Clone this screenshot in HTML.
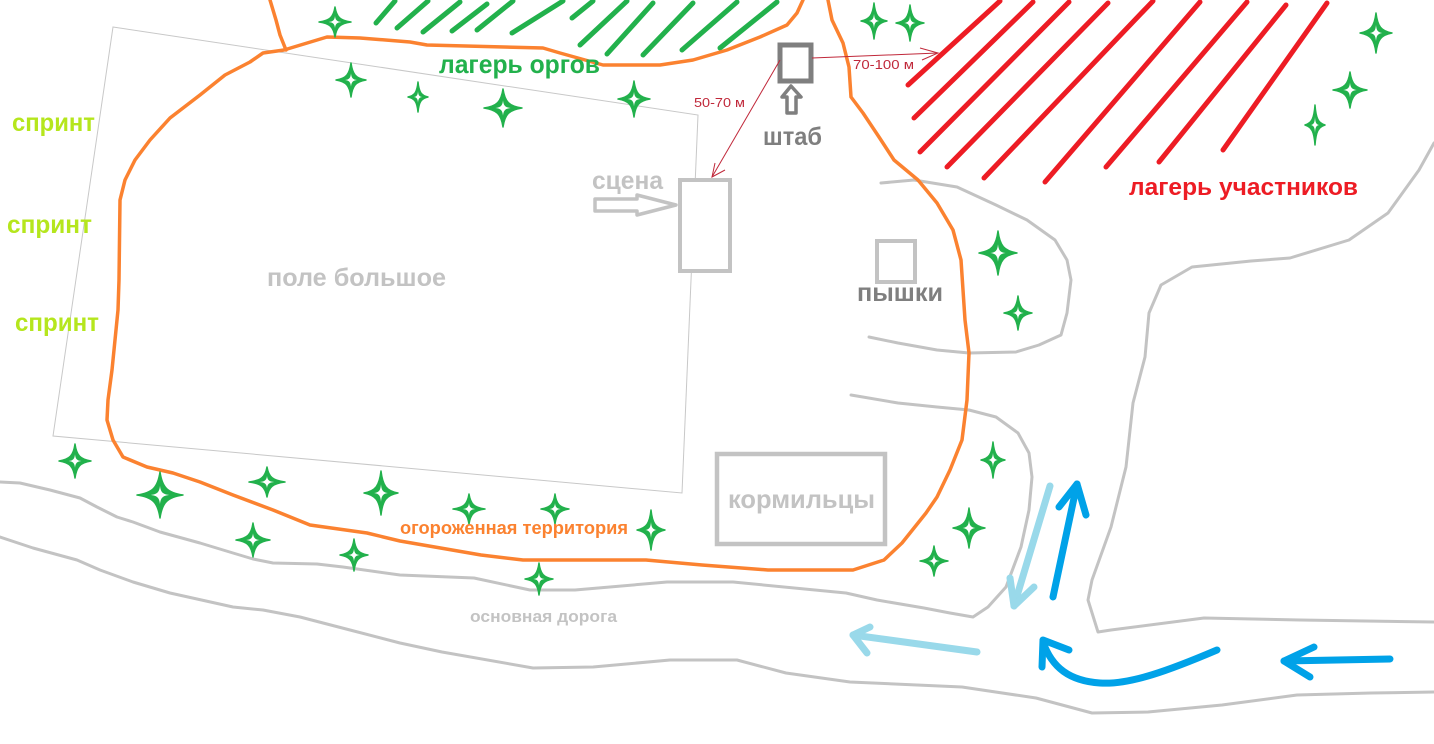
<!DOCTYPE html>
<html><head><meta charset="utf-8"><style>
html,body{margin:0;padding:0;background:#fff;}
svg{display:block;}
text{font-family:"Liberation Sans","DejaVu Sans",sans-serif;font-weight:bold;}
</style></head><body>
<svg width="1434" height="744" viewBox="0 0 1434 744" xmlns="http://www.w3.org/2000/svg">
<defs>
<path id="st" d="M0,-1 C0.1,-0.32 0.32,-0.1 1,0 C0.32,0.1 0.1,0.32 0,1 C-0.1,0.32 -0.32,0.1 -1,0 C-0.32,-0.1 -0.1,-0.32 0,-1Z" fill="#22b14c" stroke="#22b14c" stroke-width="1.5" stroke-linejoin="round" vector-effect="non-scaling-stroke"/>
<path id="sw" d="M0,-0.4 C0.03,-0.12 0.12,-0.03 0.4,0 C0.12,0.03 0.03,0.12 0,0.4 C-0.03,0.12 -0.12,0.03 -0.4,0 C-0.12,-0.03 -0.03,-0.12 0,-0.4Z" fill="#fff"/>
</defs>
<rect width="1434" height="744" fill="#fff"/>

<!-- field outline -->
<polygon points="113,27 698,115 682,493 53,436" fill="none" stroke="#c8c8c8" stroke-width="1"/>

<!-- roads -->
<g fill="none" stroke="#c3c3c3" stroke-width="3" stroke-linejoin="round" stroke-linecap="round">
<polyline points="0,482 20,483 50,490 80,498 97,507 117,517 133,522 160,532 200,543 233,553 253,559 273,563 317,564 343,567 400,575 474,578 530,590 575,590 667,582 733,582 846,593 877,600 924,608 950,613 973,617 988,607 1006,587 1021,547 1029,510 1032,477 1029,453 1018,433 996,417 969,410 937,407 898,403 851,395"/>
<polyline points="0,537 33,548 77,560 100,570 133,582 170,593 233,607 263,610 300,617 350,630 400,643 442,652 533,668 593,667 670,660 737,660 786,673 850,682 962,687 1036,698 1092,713 1148,712 1222,705 1297,695 1371,693 1434,692"/>
<polyline points="1434,622 1300,620 1204,618 1111,630 1098,632 1088,600 1092,580 1111,527 1126,467 1133,403 1145,357 1149,313 1161,285 1192,267 1251,261 1290,258 1349,240 1388,213 1419,170 1434,143"/>
<polyline points="881,183 914,180 957,187 996,205 1027,220 1055,240 1067,260 1071,280 1067,313 1061,335 1039,345 1016,352 969,353 937,350 898,343 869,337"/>
</g>

<!-- green hatches -->
<g stroke="#22b14c" stroke-width="5" stroke-linecap="round">
<line x1="376" y1="23" x2="395" y2="1"/>
<line x1="397" y1="28" x2="428" y2="1"/>
<line x1="423" y1="32" x2="460" y2="2"/>
<line x1="452" y1="31" x2="487" y2="4"/>
<line x1="477" y1="30" x2="513" y2="1"/>
<line x1="512" y1="33" x2="563" y2="1"/>
<line x1="572" y1="18" x2="593" y2="1"/>
<line x1="580" y1="45" x2="627" y2="1"/>
<line x1="607" y1="54" x2="653" y2="3"/>
<line x1="643" y1="55" x2="693" y2="3"/>
<line x1="682" y1="50" x2="737" y2="2"/>
<line x1="720" y1="48" x2="777" y2="2"/>
</g>

<!-- red hatches -->
<g stroke="#ed1c24" stroke-width="5" stroke-linecap="round">
<line x1="908" y1="85" x2="1000" y2="1"/>
<line x1="914" y1="118" x2="1033" y2="2"/>
<line x1="920" y1="152" x2="1069" y2="2"/>
<line x1="947" y1="167" x2="1108" y2="3"/>
<line x1="984" y1="178" x2="1153" y2="1"/>
<line x1="1045" y1="182" x2="1200" y2="2"/>
<line x1="1106" y1="167" x2="1247" y2="2"/>
<line x1="1159" y1="162" x2="1286" y2="5"/>
<line x1="1223" y1="150" x2="1327" y2="3"/>
</g>

<!-- orange fence -->
<g fill="none" stroke="#fb8230" stroke-width="3.5" stroke-linejoin="round" stroke-linecap="round">
<polyline points="270,0 276,20 280,35 286,50"/>
<polyline points="803,0 797,13 787,25 760,37 727,50 693,60 660,65 603,65 560,53 543,48 427,45 410,42 360,38 327,37 284,50 263,53 250,62 225,75 200,95 170,118 150,140 135,160 125,180 120,200 119,280 118,310 112,370 108,400 107,420 113,440 123,457 147,467 173,473 200,482 233,495 273,510 310,525 367,533 400,541 481,555 523,560 646,560 702,565 768,570 853,570 884,560 902,543 926,513 937,497 950,470 962,440 967,400 969,353 965,320 961,260 953,230 937,203 918,180 894,160 879,137 863,113 851,97 849,67 843,43 832,20 828,0"/>
</g>

<!-- stars -->
<g>
<use href="#st" transform="translate(335,22) scale(16,15)"/><use href="#sw" transform="translate(335,22) scale(16,15)"/>
<use href="#st" transform="translate(351,80) scale(15,17)"/><use href="#sw" transform="translate(351,80) scale(15,17)"/>
<use href="#st" transform="translate(418,97) scale(10,15)"/><use href="#sw" transform="translate(418,97) scale(10,15)"/>
<use href="#st" transform="translate(503,108) scale(19,19)"/><use href="#sw" transform="translate(503,108) scale(19,19)"/>
<use href="#st" transform="translate(634,99) scale(16,18)"/><use href="#sw" transform="translate(634,99) scale(16,18)"/>
<use href="#st" transform="translate(874,21) scale(13,18)"/><use href="#sw" transform="translate(874,21) scale(13,18)"/>
<use href="#st" transform="translate(910,23) scale(14,18)"/><use href="#sw" transform="translate(910,23) scale(14,18)"/>
<use href="#st" transform="translate(1376,33) scale(16,20)"/><use href="#sw" transform="translate(1376,33) scale(16,20)"/>
<use href="#st" transform="translate(1350,90) scale(17,18)"/><use href="#sw" transform="translate(1350,90) scale(17,18)"/>
<use href="#st" transform="translate(1315,125) scale(10,20)"/><use href="#sw" transform="translate(1315,125) scale(10,20)"/>
<use href="#st" transform="translate(998,253) scale(19,22)"/><use href="#sw" transform="translate(998,253) scale(19,22)"/>
<use href="#st" transform="translate(1018,313) scale(14,17)"/><use href="#sw" transform="translate(1018,313) scale(14,17)"/>
<use href="#st" transform="translate(993,460) scale(12,18)"/><use href="#sw" transform="translate(993,460) scale(12,18)"/>
<use href="#st" transform="translate(969,528) scale(16,20)"/><use href="#sw" transform="translate(969,528) scale(16,20)"/>
<use href="#st" transform="translate(934,561) scale(14,15)"/><use href="#sw" transform="translate(934,561) scale(14,15)"/>
<use href="#st" transform="translate(75,461) scale(16,17)"/><use href="#sw" transform="translate(75,461) scale(16,17)"/>
<use href="#st" transform="translate(160,495) scale(23,23)"/><use href="#sw" transform="translate(160,495) scale(23,23)"/>
<use href="#st" transform="translate(267,482) scale(18,15)"/><use href="#sw" transform="translate(267,482) scale(18,15)"/>
<use href="#st" transform="translate(381,493) scale(17,22)"/><use href="#sw" transform="translate(381,493) scale(17,22)"/>
<use href="#st" transform="translate(469,509) scale(16,15)"/><use href="#sw" transform="translate(469,509) scale(16,15)"/>
<use href="#st" transform="translate(253,540) scale(17,17)"/><use href="#sw" transform="translate(253,540) scale(17,17)"/>
<use href="#st" transform="translate(354,555) scale(14,16)"/><use href="#sw" transform="translate(354,555) scale(14,16)"/>
<use href="#st" transform="translate(555,509) scale(14,15)"/><use href="#sw" transform="translate(555,509) scale(14,15)"/>
<use href="#st" transform="translate(651,530) scale(14,20)"/><use href="#sw" transform="translate(651,530) scale(14,20)"/>
<use href="#st" transform="translate(539,579) scale(14,16)"/><use href="#sw" transform="translate(539,579) scale(14,16)"/>
</g>

<!-- stage -->
<rect x="680" y="180" width="50" height="91" fill="#fff" stroke="#c3c3c3" stroke-width="4"/>
<path d="M595,199 L637,199 L637,195 L676,205 L637,215 L637,211 L595,211 Z" fill="none" stroke="#c3c3c3" stroke-width="3.5" stroke-linejoin="round"/>
<text x="592" y="189" font-size="25" fill="#c3c3c3" textLength="71" lengthAdjust="spacingAndGlyphs">сцена</text>

<!-- pyshki -->
<rect x="877" y="241" width="38" height="41" fill="#fff" stroke="#c3c3c3" stroke-width="4"/>
<text x="857" y="301" font-size="25" fill="#7f7f7f" textLength="86" lengthAdjust="spacingAndGlyphs">пышки</text>

<!-- HQ -->
<rect x="780" y="45" width="31" height="36" fill="#fff" stroke="#7f7f7f" stroke-width="5"/>
<path d="M791,86 L801,97 L796,97 L796,113 L787,113 L787,97 L782,97 Z" fill="none" stroke="#7f7f7f" stroke-width="3.5" stroke-linejoin="round"/>
<text x="763" y="145" font-size="25" fill="#7f7f7f" textLength="59" lengthAdjust="spacingAndGlyphs">штаб</text>

<!-- red thin arrows -->
<g stroke="#c0283a" stroke-width="1" fill="none">
<line x1="780" y1="60" x2="712" y2="177"/>
<polyline points="715,163 712,177 725,170"/>
<line x1="812" y1="58" x2="938" y2="53"/>
<polyline points="920,48 938,53 922,60"/>
</g>
<text x="694" y="107" font-size="13" style="font-weight:normal" fill="#c0283a" textLength="51" lengthAdjust="spacingAndGlyphs">50-70 м</text>
<text x="853" y="69" font-size="13" style="font-weight:normal" fill="#c0283a" textLength="61" lengthAdjust="spacingAndGlyphs">70-100 м</text>

<!-- kormiltsy -->
<rect x="717" y="454" width="168" height="90" fill="#fff" stroke="#c3c3c3" stroke-width="4.5"/>
<text x="728" y="508" font-size="26" fill="#c3c3c3" textLength="147" lengthAdjust="spacingAndGlyphs">кормильцы</text>

<!-- labels -->
<text x="439" y="73" font-size="26" fill="#22b14c" textLength="161" lengthAdjust="spacingAndGlyphs">лагерь оргов</text>
<text x="1129" y="195" font-size="24" fill="#ed1c24" textLength="229" lengthAdjust="spacingAndGlyphs">лагерь участников</text>
<text x="12" y="131" font-size="25" fill="#b5e61d" textLength="83" lengthAdjust="spacingAndGlyphs">спринт</text>
<text x="7" y="233" font-size="25" fill="#b5e61d" textLength="85" lengthAdjust="spacingAndGlyphs">спринт</text>
<text x="15" y="331" font-size="25" fill="#b5e61d" textLength="84" lengthAdjust="spacingAndGlyphs">спринт</text>
<text x="267" y="286" font-size="25" fill="#c3c3c3" textLength="179" lengthAdjust="spacingAndGlyphs">поле большое</text>
<text x="400" y="534" font-size="18" fill="#fb8230" textLength="228" lengthAdjust="spacingAndGlyphs">огороженная территория</text>
<text x="470" y="622" font-size="17" fill="#c3c3c3" textLength="147" lengthAdjust="spacingAndGlyphs">основная дорога</text>

<!-- blue arrows -->
<g fill="none" stroke-linecap="round" stroke-linejoin="round" stroke-width="7">
<g stroke="#99d9ea">
<line x1="1050" y1="486" x2="1014" y2="606"/>
<polyline points="1010,578 1014,606 1034,587"/>
<line x1="977" y1="652" x2="853" y2="635"/>
<polyline points="870,627 853,635 867,653"/>
</g>
<g stroke="#00a2e8">
<line x1="1053" y1="597" x2="1077" y2="484"/>
<polyline points="1059,507 1077,484 1086,515"/>
<path d="M1217,650 C1170,670 1130,685 1100,683 C1070,681 1052,668 1043,642"/>
<polyline points="1069,650 1043,640 1042,667"/>
<line x1="1390" y1="659" x2="1284" y2="661"/>
<polyline points="1314,647 1284,661 1310,677"/>
</g>
</g>
</svg>
</body></html>
